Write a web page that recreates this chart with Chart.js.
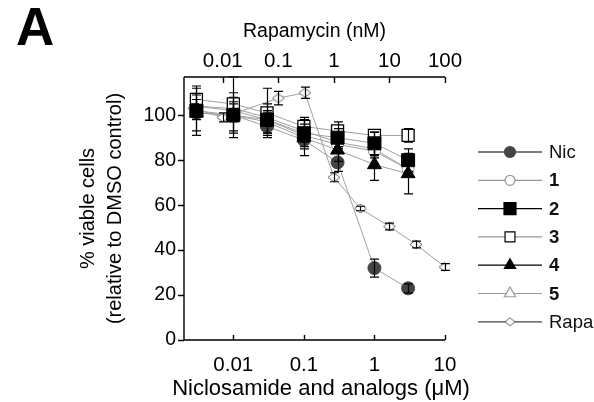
<!DOCTYPE html>
<html>
<head>
<meta charset="utf-8">
<script src="https://cdn.jsdelivr.net/npm/chart.js@4.4.1/dist/chart.umd.min.js"></script>
<style>
html, body { margin: 0; padding: 0; background: #fff; }
</style>
</head>
<body>
<canvas id="myChart" width="594" height="402"></canvas>
<script>
// concentrations: niclosamide + analogs in uM (bottom axis), rapamycin in nM (top axis)
const nicConc = [0.003, 0.01, 0.03, 0.1, 0.3, 1, 3];
const rapaConc = [0.003, 0.01, 0.1, 0.3, 1, 3, 10, 30, 100];

const seriesNames = ['Nic', '1', '2', '3', '4', '5', 'Rapa'];

// % viable cells
const nicViab = [101, 100, 95, 89, 79, 32, 23];
const c1Viab = [104, 102, 98, 91, 87, 84, 76];
const c2Viab = [102, 100, 98, 92, 90, 87.5, 80];
const c3Viab = [107, 105, 101, 95, 93, 91, 91];
const c4Viab = [101, 100, 97, 90, 84.5, 78, 74];
const c5Viab = [104, 103, 99, 93, 88, 85, 76];
const rapaViab = [103, 99, 107.6, 110, 72.4, 58.5, 50.5, 42.5, 32.5];

// error bar half-lengths
const nicErr = [3, 3, 3, 3, 4, 4, 2];
const c1Err = [3, 3, 3, 3, 3, 3, 3];
const c2Err = [11, 10, 7, 7, 4, 5, 5];
const c3Err = [5, 12, 11, 3, 4, 1.5, 3];
const c4Err = [8, 8, 5, 8, 5, 7, 9];
const c5Err = [3, 3, 3, 3, 3, 3, 3];
const rapaErr = [2, 2, 3, 2.5, 2, 1, 1.5, 1.5, 1.5];

const bottomTicks = [0.01, 0.1, 1, 10];
const topTicks = [0.01, 0.1, 1, 10, 100];
const yTicks = [0, 20, 40, 60, 80, 100];

const bottomTitle = 'Niclosamide and analogs (\u03bcM)';

const FONT = 'Liberation Sans, Arial, sans-serif';
Chart.defaults.font.family = FONT;
Chart.defaults.color = '#000';

const makeDiamond = (w, h, stroke) => {
    const c = document.createElement('canvas');
    c.width = w + 2; c.height = h + 2;
    const g = c.getContext('2d');
    g.beginPath();
    g.moveTo(1 + w / 2, 1); g.lineTo(1 + w, 1 + h / 2);
    g.lineTo(1 + w / 2, 1 + h); g.lineTo(1, 1 + h / 2); g.closePath();
    g.fillStyle = '#fff'; g.fill();
    g.strokeStyle = stroke; g.lineWidth = 1; g.stroke();
    return c;
};
const diamondImg = makeDiamond(12, 9, '#666');
const diamondLegend = makeDiamond(10, 8, '#666');

const pts = (xs, ys) => xs.map((x, i) => ({x: x, y: ys[i]}));
const LINE = '#a0a0a0';

const datasets = [
    {label: seriesNames[0], data: pts(nicConc, nicViab), errors: nicErr, order: 2,
     pointStyle: 'circle', pointRadius: 6.5, pointBackgroundColor: '#444', pointBorderColor: '#444',
     legendLine: '#000', legendRadius: 5.5},
    {label: seriesNames[1], data: pts(nicConc, c1Viab), errors: c1Err, order: 4,
     pointStyle: 'circle', pointRadius: 6, pointBackgroundColor: '#fff', pointBorderColor: '#999',
     legendLine: '#999', legendRadius: 5},
    {label: seriesNames[2], data: pts(nicConc, c2Viab), errors: c2Err, order: 0,
     pointStyle: 'rect', pointRadius: 9.2, pointBackgroundColor: '#000', pointBorderColor: '#000',
     legendLine: '#000', legendRadius: 8.5},
    {label: seriesNames[3], data: pts(nicConc, c3Viab), errors: c3Err, order: 3,
     pointStyle: 'rect', pointRadius: 8.5, pointBackgroundColor: '#fff', pointBorderColor: '#000', pointBorderWidth: 1.3,
     legendLine: '#999', legendRadius: 7},
    {label: seriesNames[4], data: pts(nicConc, c4Viab), errors: c4Err, order: 1,
     pointStyle: 'triangle', pointRadius: 8, pointBackgroundColor: '#000', pointBorderColor: '#000',
     legendLine: '#000', legendRadius: 6.5},
    {label: seriesNames[5], data: pts(nicConc, c5Viab), errors: c5Err, order: 5,
     pointStyle: 'triangle', pointRadius: 7, pointBackgroundColor: '#fff', pointBorderColor: '#999',
     legendLine: '#999', legendRadius: 6.5},
    {label: seriesNames[6], data: pts(rapaConc, rapaViab), errors: rapaErr, order: 6, xAxisID: 'x2',
     pointStyle: diamondImg, pointRadius: 6,
     legendLine: '#444', legendImg: diamondLegend}
];
datasets.forEach(d => {
    d.showLine = true;
    d.borderColor = LINE;
    d.borderWidth = 1;
    d.pointHoverRadius = d.pointRadius;
});

const errorBars = {
    id: 'errorBars',
    afterDatasetsDraw(chart) {
        const ctx = chart.ctx;
        const y = chart.scales.y;
        ctx.save();
        ctx.strokeStyle = '#000';
        ctx.lineWidth = 1.2;
        chart.data.datasets.forEach((ds, i) => {
            const xs = chart.scales[chart.getDatasetMeta(i).xAxisID];
            ds.data.forEach((p, j) => {
                const e = ds.errors[j];
                const px = Math.round(xs.getPixelForValue(p.x)) + 0.5;
                const hi = y.getPixelForValue(p.y + e);
                const lo = y.getPixelForValue(p.y - e);
                ctx.beginPath();
                ctx.moveTo(px, hi); ctx.lineTo(px, lo);
                ctx.moveTo(px - 4.5, hi); ctx.lineTo(px + 4.5, hi);
                ctx.moveTo(px - 4.5, lo); ctx.lineTo(px + 4.5, lo);
                ctx.stroke();
            });
        });
        ctx.restore();
    }
};

const frame = {
    id: 'frame',
    afterDraw(chart) {
        const ctx = chart.ctx;
        const a = chart.chartArea;
        const xb = chart.scales.x, xt = chart.scales.x2, y = chart.scales.y;
        ctx.save();
        ctx.strokeStyle = '#000';
        ctx.lineWidth = 1.4;
        ctx.beginPath();
        ctx.moveTo(a.left, a.top); ctx.lineTo(a.left, a.bottom); ctx.lineTo(a.right, a.bottom);
        ctx.moveTo(a.left, a.top); ctx.lineTo(a.right, a.top);
        bottomTicks.forEach(v => {
            const px = Math.round(xb.getPixelForValue(v)) + 0.5;
            ctx.moveTo(px, a.bottom); ctx.lineTo(px, a.bottom - 5);
        });
        topTicks.forEach(v => {
            const px = Math.round(xt.getPixelForValue(v)) + 0.5;
            ctx.moveTo(px, a.top); ctx.lineTo(px, a.top + 6);
        });
        yTicks.forEach(v => {
            const py = Math.round(y.getPixelForValue(v)) + 0.5;
            ctx.moveTo(a.left, py); ctx.lineTo(a.left - 6, py);
        });
        ctx.stroke();

        // bottom axis title (wider than the axis, so drawn here without maxWidth)
        ctx.fillStyle = '#000';
        ctx.font = '22px ' + FONT;
        ctx.textAlign = 'center';
        ctx.textBaseline = 'alphabetic';
        ctx.fillText(bottomTitle, 321, 395);

        // panel letter
        ctx.textAlign = 'left';
        ctx.font = 'bold 53px ' + FONT;
        ctx.fillText('A', 16, 45);

        // legend: line through marker
        chart.data.datasets.forEach((ds, i) => {
            const ly = 152 + i * 28.3;
            ctx.strokeStyle = ds.legendLine;
            ctx.lineWidth = 1.2;
            ctx.beginPath(); ctx.moveTo(478, ly); ctx.lineTo(542, ly); ctx.stroke();
            if (ds.legendImg) {
                ctx.drawImage(ds.legendImg, 510 - ds.legendImg.width / 2, ly - ds.legendImg.height / 2);
            } else {
                ctx.fillStyle = ds.pointBackgroundColor;
                ctx.strokeStyle = ds.pointBorderColor;
                Chart.helpers.drawPoint(ctx, {pointStyle: ds.pointStyle, radius: ds.legendRadius, rotation: 0, borderWidth: 1}, 510, ly);
            }
            const bold = /^[0-9]$/.test(ds.label);
            ctx.fillStyle = '#111';
            ctx.font = (bold ? 'bold ' : '') + '18.5px ' + FONT;
            ctx.textBaseline = 'middle';
            ctx.fillText(ds.label, 549, ly + 1);
        });
        ctx.restore();
    }
};

new Chart(document.getElementById('myChart').getContext('2d'), {
    type: 'scatter',
    data: {datasets: datasets},
    plugins: [errorBars, frame],
    options: {
        responsive: false,
        animation: false,
        layout: {padding: {left: 0, right: 149, top: 0, bottom: 0}},
        plugins: {legend: {display: false}, tooltip: {enabled: false}},
        scales: {
            x: {
                type: 'logarithmic', position: 'bottom', min: 0.002, max: 10,
                afterBuildTicks: s => { s.ticks = bottomTicks.map(v => ({value: v})); },
                afterFit: s => { s.height = 62; },
                grid: {display: false, drawTicks: false}, border: {display: false},
                ticks: {font: {size: 20.5}, padding: 13, maxRotation: 0, autoSkip: false, callback: v => String(v)},
                title: {display: false}
            },
            x2: {
                type: 'logarithmic', position: 'top', min: 0.002, max: 100,
                afterBuildTicks: s => { s.ticks = topTicks.map(v => ({value: v})); },
                afterFit: s => { s.height = 77; },
                grid: {display: false, drawTicks: false}, border: {display: false},
                ticks: {font: {size: 20.5}, padding: 3, maxRotation: 0, autoSkip: false, callback: v => String(v)},
                title: {display: true, text: 'Rapamycin (nM)', font: {size: 19.5}, padding: {top: 20, bottom: 0}}
            },
            y: {
                type: 'linear', min: 0, max: 117,
                afterBuildTicks: s => { s.ticks = yTicks.map(v => ({value: v})); },
                afterFit: s => { s.width = 184; },
                grid: {display: false, drawTicks: false}, border: {display: false},
                ticks: {font: {size: 19.5}, padding: 8},
                title: {display: true, text: ['% viable cells', '(relative to DMSO control)'],
                        font: {size: 20, lineHeight: 1.35}, padding: {top: 75, bottom: 0}}
            }
        }
    }
});
</script>
</body>
</html>
